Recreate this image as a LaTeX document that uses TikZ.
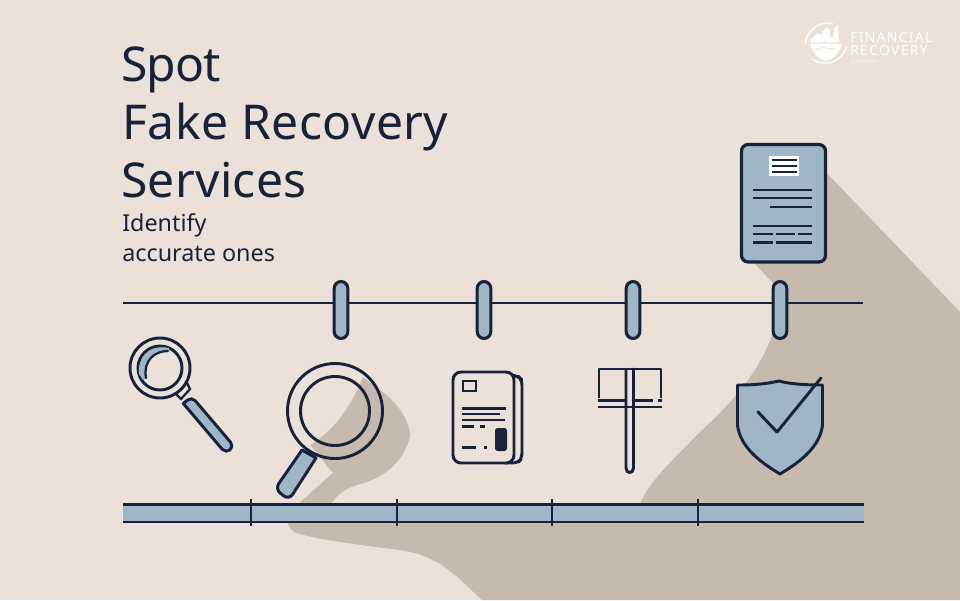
\documentclass[tikz,border=0pt]{standalone}
\usepackage{fontspec}
\setmainfont{Noto Sans}
\definecolor{bgc}{HTML}{EBE1D8}
\definecolor{shc}{HTML}{C6BAAE}
\definecolor{ink}{HTML}{16233A}
\definecolor{blu}{HTML}{A0B5C5}
\tikzset{
  ln/.style={draw=ink,line width=2.2pt,line cap=round,line join=round},
  fn/.style={draw=ink,line width=2pt},
  peg/.style={draw=ink,fill=blu,line width=2.3pt,rounded corners=5.2pt},
  title/.style={anchor=base west,inner sep=0pt,text=ink,font=\fontsize{36}{36}\selectfont},
  sub/.style={anchor=base west,inner sep=0pt,text=ink,font=\fontsize{17.5}{18}\selectfont},
  logo/.style={anchor=base west,inner sep=0pt,text=white}
}
\begin{document}
\begin{tikzpicture}[x=0.75pt,y=-0.75pt]
\useasboundingbox (0,0) rectangle (960,600);
\fill[bgc] (0,0) rectangle (960,600);
% shadows
\fill[shc] (800,145) -- (960,312) -- (960,600) -- (482,600)
  .. controls (455,575) and (440,556) .. (400,550)
  .. controls (360,545) and (320,540) .. (296,533)
  .. controls (285,527) and (284,515) .. (296,504)
  -- (640,504) .. controls (650,480) and (675,458) .. (700,432)
  .. controls (735,400) and (760,370) .. (772,335)
  .. controls (777,320) and (790,300) .. (770,280)
  -- (742,250) -- cycle;
\fill[shc] (297,505) -- (333,473) -- (310,445)
  .. controls (335,430) and (352,405) .. (363,377)
  -- (380,390) .. controls (395,400) and (410,420) .. (410,436)
  .. controls (405,460) and (385,478) .. (360,484)
  .. controls (340,490) and (335,498) .. (330,506) -- cycle;
% title
\node[title] (t1) at (121,81) {\addfontfeature{LetterSpace=-1.6}Spot};
\node[title] (t2) at (122,139) {\addfontfeature{LetterSpace=1}Fake Recovery};
\node[title] (t3) at (121,197) {\addfontfeature{LetterSpace=0.6}Services};
\node[sub] (s1) at (122,231) {Identify};
\node[sub] (s2) at (122,261) {accurate ones};
% document
\draw[draw=ink,fill=blu,line width=2.4pt,rounded corners=5pt] (741.5,144.5) rectangle (825.5,262);
\fill[white] (769,156) rectangle (799,176);
\draw[ink,line width=2.2pt] (772,160) -- (797,160) (772,166) -- (797,166) (772,172) -- (797,172);
\draw[fn] (753,190) -- (812,190) (753,198) -- (812,198) (770,207) -- (812,207)
 (753,226) -- (812,226) (753,234) -- (773,234) (776,234) -- (795,234) (798,234) -- (812,234)
 (753,242.5) -- (773,242.5) (776,242.5) -- (812,242.5);
% top line
\coordinate (la) at (123,303); \coordinate (lb) at (863,303);
\draw[ink,line width=2.1pt] (la) -- (lb);
\foreach \x in {341,484,633,780}{
  \draw[peg] (\x-6.8,281.5) rectangle (\x+6.8,338.5);
}
% magnifier 1
\draw[ln,fill=blu] (191.7,396.5) -- (183.3,403.5) [rounded corners=4.2pt] -- (225.8,453.5) -- (234.2,446.5) -- cycle;
\draw[ink,fill=bgc,line width=1.7pt] (174,392) -- (187,383) -- (190,389) -- (181,399) -- cycle;
\draw[ln,fill=bgc] (160,368) circle (30);
\draw[ln,fill=bgc] (160,368) circle (22);
\fill[blu] (169,348) .. controls (150,344) and (137,358) .. (139,374) -- (143,380) -- (146,378)
  .. controls (143,362) and (155,351) .. (169,351) -- cycle;
\draw[ink,line width=1.7pt,line cap=round] (168,351) .. controls (155,351) and (143,360) .. (146,378);
% magnifier 2
\draw[ln,fill=blu] (302,450) [rounded corners=5pt] -- (275,489) -- (289,500) [sharp corners] -- (316,458) -- cycle;
\draw[ln] (335,411) circle (47.5);
\draw[ln] (335,411) circle (34.5);
% card
\draw[ln,fill=bgc,rounded corners=4pt] (505,374) -- (518,376) -- (522,380) -- (522,458) -- (518,463) -- (505,463);
\draw[ln,fill=bgc,rounded corners=6pt] (453,372) rectangle (514,463);
\draw[ink,line width=1.8pt] (463,381) rectangle (476,391);
\draw[fn] (462,408.5) -- (506,408.5) (462,414) -- (500,414) (462,420) -- (505,420)
  (462,426.5) -- (474,426.5) (480,426.5) -- (485,426.5);
\draw[ink,line width=2.5pt] (462,447.5) -- (476,447.5) (484,447.5) -- (487,447.5);
\fill[ink,rounded corners=2pt] (495,428) rectangle (507,451);
% cross
\draw[ln,line cap=butt] (599,398) -- (599,369) -- (661,369) -- (661,398);
\draw[ink,line width=2.2pt] (598,400.5) -- (625,400.5) (634,400.5) -- (653,400.5) (658,400.5) -- (662,400.5);
\draw[ink,line width=2.2pt] (598,407) -- (662,407);
\draw[ln] (626,369) -- (626,468) .. controls (626,474) and (633.5,474) .. (633.5,468) -- (633.5,369);
% shield
\draw[ln,fill=blu] (737.5,385) .. controls (755,385) and (765,384) .. (779,381)
  .. controls (790,384) and (805,385) .. (822.5,385) -- (822.5,425)
  .. controls (820,447) and (800,462) .. (780,474)
  .. controls (760,462) and (740,447) .. (737.5,425) -- cycle;
\draw[ln] (758,412) -- (777,432) -- (821,378);
% bottom bar
\fill[blu] (123,505) rectangle (864,522);
\draw[ink,line width=2.2pt] (123,504.5) -- (864,504.5) (123,522) -- (864,522);
\draw[ink,line width=2pt] foreach \x in {251,397,552,698} {(\x,499) -- (\x,526)};
% logo
\node[logo,font=\fontsize{10.5}{11}\selectfont] (l1) at (850,42.5) {\addfontfeature{LetterSpace=9}FINANCIAL};
\node[logo,font=\fontsize{10.5}{11}\selectfont] (l2) at (850,55) {\addfontfeature{LetterSpace=9}RECOVERY};
\node[logo,font=\fontsize{3.4}{4}\selectfont] (l3) at (851,63.5) {\addfontfeature{LetterSpace=30}EXPERTS};
\draw[white,line width=1pt] (833,24) .. controls (820,20) and (807,30) .. (805,44);
\draw[white,line width=1pt] (812,59) .. controls (825,68) and (842,62) .. (847,46);
\fill[white] (810,44) -- (811,39) -- (818,33) -- (822,36) -- (822,31) -- (827,28) -- (830,31) -- (830,37) -- (834,37) -- (834,28) -- (838,25) -- (839,44)
  -- (842,44) .. controls (839,54) and (833,59) .. (826,61) .. controls (820,60) and (813,54) .. (810,44) -- cycle;
\draw[bgc,line width=0.8pt] (810,43) -- (842,43) (815,50) -- (823,47) -- (829,49) -- (836,48);
\end{tikzpicture}
\end{document}
